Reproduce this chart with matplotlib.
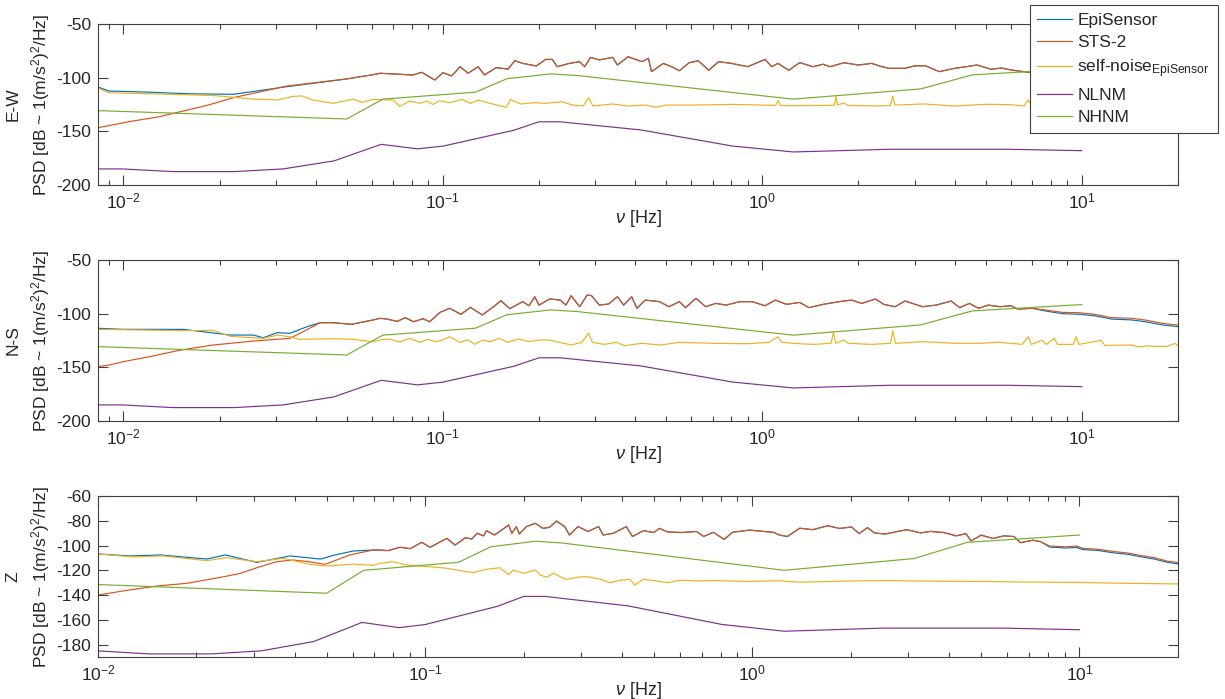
import numpy as np
import matplotlib
matplotlib.use("Agg")
import matplotlib.pyplot as plt

plt.rcParams['font.family'] = ['Liberation Sans', 'DejaVu Sans']
plt.rcParams['mathtext.fontset'] = 'custom'
plt.rcParams['mathtext.rm'] = 'Liberation Sans'
plt.rcParams['mathtext.it'] = 'Liberation Sans:italic'
plt.rcParams['mathtext.bf'] = 'Liberation Sans:bold'
plt.rcParams['axes.unicode_minus'] = False

# ---------------- colours (MATLAB default order) ----------------
C_EPI = (0.0, 0.447, 0.741)
C_STS = (0.850, 0.325, 0.098)
C_SELF = (0.929, 0.694, 0.125)
C_NLNM = (0.494, 0.184, 0.556)
C_NHNM = (0.466, 0.674, 0.188)

# ---------------- Peterson models ----------------
nlnm_f = [0.00833, 0.0099, 0.01429, 0.02222, 0.03165, 0.04566, 0.0641, 0.08333,
          0.1, 0.1667, 0.2, 0.2326, 0.4167, 0.8065, 1.25, 2.5, 5.882, 10.0]
nlnm_v = [-185.0, -185.0, -187.5, -187.5, -185.0, -177.5, -162.1, -166.3,
          -163.8, -149.0, -141.1, -141.1, -148.7, -163.7, -169.2, -166.7, -166.7, -168.0]
nhnm_f = [0.00833, 0.05, 0.0649, 0.1266, 0.1587, 0.2174, 0.2632, 1.25, 3.125, 4.545, 10.0]
nhnm_v = [-130.7, -138.5, -120.0, -113.5, -101.0, -96.5, -98.0, -120.0, -110.5, -97.4, -91.5]

# ---------------- E-W ----------------
ew_sts_f = [0.00833, 0.0107, 0.0128, 0.0159, 0.0183, 0.0221, 0.0325, 0.05, 0.0622, 0.0636,
            0.0806, 0.0859, 0.0944, 0.100, 0.1065, 0.1133, 0.120, 0.129, 0.135, 0.147,
            0.160, 0.168, 0.178, 0.196, 0.210, 0.220, 0.228, 0.249, 0.268, 0.278,
            0.290, 0.309, 0.340, 0.352, 0.380, 0.420, 0.440, 0.450, 0.490, 0.520,
            0.550, 0.590, 0.630, 0.680, 0.730, 0.800, 0.900, 1.02, 1.07, 1.12,
            1.21, 1.31, 1.44, 1.55, 1.63, 1.80, 2.0, 2.2, 2.35, 2.49,
            2.8, 3.0, 3.24, 3.58, 4.0, 4.3, 4.7, 5.2, 5.6, 6.0,
            6.8, 8.0, 10.0, 12.5, 15.0, 17.5, 20.0]
ew_sts_v = [-146.6, -140.4, -136.7, -130.1, -125.8, -118.6, -107.8, -101.2, -96.6, -95.9,
            -97.5, -95.0, -102.2, -95.3, -98.4, -89.8, -95.9, -89.8, -97.5, -90.7,
            -92.0, -84.2, -86.7, -89.1, -83.0, -83.0, -89.8, -86.7, -85.1, -89.8,
            -81.1, -83.5, -81.1, -88.2, -80.5, -85.1, -82.0, -94.4, -86.7, -89.8,
            -93.5, -86.1, -84.2, -93.1, -85.1, -86.7, -89.8, -83.0, -89.8, -86.7,
            -93.1, -86.0, -89.8, -87.5, -89.8, -86.1, -88.2, -86.7, -89.5, -91.3,
            -91.3, -89.0, -88.9, -94.4, -91.3, -90.0, -88.2, -92.2, -91.0, -92.8,
            -95.0, -97.0, -99.5, -103.0, -105.5, -108.0, -110.0]
ew_epi_low_f = [0.00833, 0.0090, 0.0120, 0.0160, 0.0221, 0.0325]
ew_epi_low_v = [-108.7, -112.4, -113.5, -115.0, -115.5, -108.4]
ew_self_f = [0.00833, 0.0090, 0.0191, 0.0255, 0.0303, 0.034, 0.0362, 0.0392, 0.0453, 0.0524,
             0.0558, 0.0604, 0.0636, 0.0698, 0.0733, 0.0787, 0.0847, 0.089, 0.093, 0.0979,
             0.105, 0.115, 0.122, 0.129, 0.140, 0.158, 0.163, 0.175, 0.193, 0.210,
             0.235, 0.255, 0.275, 0.286, 0.295, 0.34, 0.38, 0.43, 0.464, 0.50,
             0.62, 0.80, 1.00, 1.10, 1.12, 1.14, 1.31, 1.6, 1.68, 1.70,
             1.72, 1.80, 1.85, 2.3, 2.52, 2.56, 2.60, 3.2, 4.0, 5.0,
             6.0, 6.6, 6.8, 7.0, 8.2, 9.6, 10.2, 12.0, 16.0, 20.0]
ew_self_v = [-109.7, -114.0, -116.6, -119.9, -120.8, -117.4, -117.0, -120.8, -123.9, -120.0,
             -123.0, -120.3, -120.5, -120.8, -126.8, -121.8, -123.9, -121.8, -124.9, -121.5,
             -123.4, -120.2, -123.9, -120.8, -123.9, -127.6, -120.2, -124.5, -123.3, -123.9,
             -122.4, -125.5, -126.4, -118.6, -126.4, -124.5, -126.4, -125.5, -127.6, -125.5,
             -125.5, -124.9, -125.5, -125.8, -121.4, -126.0, -126.0, -125.8, -125.8, -117.7,
             -125.5, -123.5, -125.8, -126.4, -126.0, -117.0, -125.5, -124.5, -126.4, -124.8,
             -125.2, -126.4, -120.8, -126.4, -124.0, -122.0, -126.5, -127.0, -128.0, -128.5]

# ---------------- N-S ----------------
ns_sts_f = [0.00833, 0.0090, 0.010, 0.0121, 0.0151, 0.0191, 0.0255, 0.0332, 0.0357, 0.0413,
            0.0453, 0.0518, 0.0604, 0.0636, 0.0668, 0.072, 0.0762, 0.081, 0.0866, 0.091,
            0.0979, 0.105, 0.114, 0.122, 0.133, 0.145, 0.152, 0.162, 0.178, 0.186,
            0.194, 0.200, 0.216, 0.233, 0.243, 0.252, 0.268, 0.283, 0.292, 0.309,
            0.33, 0.352, 0.368, 0.39, 0.405, 0.43, 0.477, 0.51, 0.55, 0.575,
            0.62, 0.665, 0.715, 0.77, 0.85, 0.93, 1.02, 1.10, 1.19, 1.31,
            1.40, 1.55, 1.74, 1.90, 2.05, 2.26, 2.40, 2.60, 2.80, 3.17,
            3.5, 3.9, 4.15, 4.45, 4.75, 5.1, 5.55, 6.0, 6.3, 7.0,
            7.7, 8.7, 9.8, 11.0, 12.4, 14.3, 15.8, 17.9, 20.0]
ns_sts_v = [-149.4, -147.9, -144.7, -140.0, -133.9, -129.2, -125.5, -123.0, -118.3, -108.4,
            -108.4, -109.9, -105.9, -104.3, -105.0, -107.2, -103.7, -107.5, -104.7, -107.5,
            -98.8, -95.0, -100.6, -94.1, -101.2, -92.9, -87.9, -95.3, -88.8, -92.6,
            -84.2, -92.0, -86.3, -87.3, -92.0, -83.2, -93.5, -82.6, -83.2, -92.0,
            -91.0, -84.2, -92.0, -84.2, -95.0, -87.3, -88.8, -93.5, -88.8, -94.4,
            -85.7, -93.5, -90.4, -92.0, -88.8, -88.8, -92.6, -87.3, -91.3, -89.5,
            -94.4, -91.3, -88.8, -87.3, -90.4, -86.3, -91.3, -93.5, -88.2, -93.5,
            -92.0, -88.2, -94.4, -90.4, -95.0, -92.0, -93.5, -92.6, -95.7, -95.0,
            -96.6, -98.8, -99.1, -100.6, -103.7, -104.3, -105.9, -109.0, -110.6]
ns_epi_low_f = [0.00833, 0.010, 0.0154, 0.0216, 0.0255, 0.0274, 0.0303, 0.0332, 0.0376, 0.0413]
ns_epi_low_v = [-113.6, -114.6, -114.6, -119.9, -119.9, -122.4, -117.7, -118.3, -112.1, -108.4]
ns_epi_tail_f = [7.7, 8.7, 9.8, 11.0, 12.4, 14.3, 15.8, 17.9, 20.0]
ns_epi_tail_v = [-97.5, -100.0, -100.5, -102.0, -105.0, -105.8, -107.5, -110.5, -112.0]
ns_self_f = [0.00833, 0.0154, 0.0191, 0.0216, 0.0274, 0.0303, 0.0332, 0.0357, 0.0453, 0.0524,
             0.0604, 0.0636, 0.068, 0.0733, 0.0787, 0.085, 0.0895, 0.0955, 0.100, 0.105,
             0.113, 0.12, 0.126, 0.133, 0.140, 0.150, 0.160, 0.172, 0.186, 0.20,
             0.215, 0.232, 0.252, 0.272, 0.286, 0.294, 0.32, 0.35, 0.37, 0.42,
             0.48, 0.55, 0.70, 0.90, 1.05, 1.12, 1.15, 1.31, 1.45, 1.64,
             1.67, 1.70, 1.80, 1.86, 2.2, 2.52, 2.56, 2.61, 3.2, 4.0,
             4.8, 5.5, 6.5, 6.8, 6.95, 7.5, 7.75, 8.2, 8.4, 9.4,
             9.6, 9.8, 11.5, 11.8, 14.3, 15.0, 16.0, 17.0, 18.5, 19.6, 20.0]
ns_self_v = [-114.6, -115.8, -115.5, -121.1, -123.0, -119.9, -121.5, -123.9, -123.3, -123.9,
             -126.1, -124.5, -123.6, -126.4, -123.0, -126.7, -123.9, -126.1, -124.5, -121.4,
             -126.7, -124.5, -128.6, -124.5, -126.1, -123.0, -126.7, -123.6, -126.1, -124.5,
             -124.5, -126.7, -129.2, -126.7, -118.3, -126.7, -128.6, -126.7, -129.8, -127.6,
             -129.2, -126.7, -127.6, -128.0, -126.7, -121.4, -126.7, -128.0, -128.6, -127.6,
             -117.7, -127.6, -124.5, -127.6, -128.6, -127.6, -116.0, -127.6, -126.1, -127.6,
             -127.6, -126.6, -128.6, -121.4, -128.6, -124.8, -128.6, -123.0, -128.6, -128.6,
             -121.4, -128.6, -124.8, -129.5, -129.2, -131.0, -130.0, -130.5, -130.5, -127.6, -129.8]

# ---------------- Z ----------------
z_sts_f = [0.010, 0.0119, 0.0151, 0.0187, 0.0242, 0.0272, 0.0306, 0.0352, 0.0395, 0.0440,
           0.0494, 0.0536, 0.0588, 0.0694, 0.0727, 0.0770, 0.0837, 0.0900, 0.0976, 0.1035,
           0.110, 0.1165, 0.1235, 0.1326, 0.139, 0.144, 0.151, 0.154, 0.163, 0.169,
           0.180, 0.184, 0.190, 0.194, 0.204, 0.217, 0.229, 0.240, 0.252, 0.267,
           0.276, 0.293, 0.315, 0.339, 0.350, 0.376, 0.412, 0.430, 0.465, 0.50,
           0.52, 0.55, 0.61, 0.675, 0.71, 0.76, 0.82, 0.87, 0.98, 1.08,
           1.16, 1.21, 1.28, 1.395, 1.53, 1.70, 1.85, 2.01, 2.12, 2.25,
           2.36, 2.55, 2.83, 2.97, 3.27, 3.5, 3.85, 4.2, 4.5, 4.66,
           5.0, 5.45, 5.86, 6.3, 6.6, 7.2, 7.6, 8.1, 9.1, 9.8,
           10.2, 11.4, 12.8, 14.0, 15.5, 17.0, 18.5, 20.0]
z_sts_v = [-140.0, -136.7, -132.7, -130.5, -125.2, -122.5, -117.9, -113.0, -111.7, -113.0,
           -115.2, -111.7, -107.6, -103.6, -103.6, -104.1, -101.4, -102.5, -97.4, -101.4,
           -97.7, -94.2, -99.6, -93.7, -94.7, -90.1, -92.2, -88.0, -91.5, -88.6,
           -83.4, -90.1, -84.7, -90.6, -84.7, -82.0, -86.1, -85.3, -80.2, -84.7,
           -91.5, -84.7, -88.6, -84.7, -91.5, -90.1, -84.7, -92.7, -88.0, -89.5,
           -86.1, -89.0, -89.5, -88.6, -92.7, -89.3, -95.0, -89.3, -87.5, -88.6,
           -89.3, -91.5, -92.7, -86.0, -87.2, -84.0, -86.2, -85.0, -90.4, -85.5,
           -89.8, -90.7, -88.2, -87.2, -89.8, -88.6, -89.5, -92.2, -90.4, -96.3,
           -91.6, -94.3, -92.2, -92.7, -97.7, -95.7, -96.8, -100.4, -101.0, -100.4,
           -102.2, -103.0, -104.9, -106.0, -108.2, -109.9, -112.5, -113.8]
z_epi_low_f = [0.010, 0.0125, 0.0155, 0.0215, 0.0245, 0.0306, 0.0386, 0.0455, 0.0480, 0.0524, 0.0603]
z_epi_low_v = [-106.8, -108.4, -107.6, -110.9, -107.6, -113.6, -108.4, -110.3, -110.9, -107.9, -104.4]
z_epi_tail_f = [8.1, 9.1, 9.8, 10.2, 11.4, 12.8, 14.0, 15.5, 17.0, 18.5, 20.0]
z_epi_tail_v = [-101.2, -102.0, -101.5, -103.2, -104.0, -106.0, -107.0, -109.2, -111.0, -113.5, -114.8]
z_self_f = [0.010, 0.0128, 0.0158, 0.0215, 0.0247, 0.0306, 0.0368, 0.0444, 0.0500, 0.0603,
            0.0694, 0.0727, 0.0798, 0.0877, 0.0963, 0.1035, 0.1165, 0.1247, 0.140, 0.154,
            0.169, 0.180, 0.186, 0.200, 0.217, 0.224, 0.235, 0.246, 0.270, 0.297,
            0.315, 0.344, 0.367, 0.394, 0.422, 0.437, 0.465, 0.50, 0.55, 0.605,
            0.675, 0.76, 0.96, 1.21, 1.395, 2.0, 2.6, 3.5, 5.0, 7.0,
            10.0, 14.0, 20.0]
z_self_v = [-106.8, -109.2, -108.4, -112.2, -109.8, -113.0, -110.3, -115.2, -116.6, -115.0,
            -116.0, -114.4, -113.0, -115.7, -116.6, -117.1, -118.4, -119.7, -121.9, -119.2,
            -117.9, -123.6, -119.7, -122.4, -119.7, -123.6, -125.7, -122.4, -127.3, -125.3,
            -125.3, -127.3, -130.0, -128.0, -127.3, -131.9, -127.3, -128.3, -130.0, -128.0,
            -128.6, -128.3, -129.0, -128.5, -129.6, -128.6, -128.3, -128.8, -129.0, -129.5,
            -129.8, -130.5, -131.0]

panel_names = ['E-W', 'N-S', 'Z']
series_labels = ['EpiSensor', 'STS-2', r'self-noise$_{\mathrm{EpiSensor}}$', 'NLNM', 'NHNM']


def splice(low_f, low_v, mid_f, mid_v, tail_f=None, tail_v=None):
    mid_f = np.asarray(mid_f)
    mid_v = np.asarray(mid_v)
    mask = mid_f > low_f[-1]
    if tail_f is not None:
        mask &= mid_f < tail_f[0]
    f = np.concatenate([low_f, mid_f[mask]] + ([tail_f] if tail_f is not None else []))
    v = np.concatenate([low_v, mid_v[mask]] + ([tail_v] if tail_v is not None else []))
    return f, v


panels = [
    dict(sts=(ew_sts_f, ew_sts_v), epi=splice(ew_epi_low_f, ew_epi_low_v, ew_sts_f, ew_sts_v),
         self=(ew_self_f, ew_self_v), xlim=(0.00833, 20), ylim=(-200, -50),
         yticks=[-200, -150, -100, -50]),
    dict(sts=(ns_sts_f, ns_sts_v),
         epi=splice(ns_epi_low_f, ns_epi_low_v, ns_sts_f, ns_sts_v, ns_epi_tail_f, ns_epi_tail_v),
         self=(ns_self_f, ns_self_v), xlim=(0.00833, 20), ylim=(-200, -50),
         yticks=[-200, -150, -100, -50]),
    dict(sts=(z_sts_f, z_sts_v),
         epi=splice(z_epi_low_f, z_epi_low_v, z_sts_f, z_sts_v, z_epi_tail_f, z_epi_tail_v),
         self=(z_self_f, z_self_v), xlim=(0.01, 20), ylim=(-190, -60),
         yticks=[-180, -160, -140, -120, -100, -80, -60]),
]

fig = plt.figure(figsize=(12.25, 6.99), dpi=100)
rects = [[0.0800, 0.7353, 0.8816, 0.2304],
         [0.0800, 0.3977, 0.8816, 0.2303],
         [0.0800, 0.0601, 0.8816, 0.2303]]
lw = 0.85
spine_c = '0.25'
handles = None
for i, (p, r) in enumerate(zip(panels, rects)):
    ax = fig.add_axes(r)
    h1, = ax.plot(*p['epi'], color=C_EPI, lw=lw)
    h2, = ax.plot(*p['sts'], color=C_STS, lw=lw)
    h3, = ax.plot(*p['self'], color=C_SELF, lw=lw)
    h4, = ax.plot(nlnm_f, nlnm_v, color=C_NLNM, lw=lw)
    h5, = ax.plot(nhnm_f, nhnm_v, color=C_NHNM, lw=lw)
    if handles is None:
        handles = [h1, h2, h3, h4, h5]
    ax.set_xscale('log')
    ax.set_xlim(*p['xlim'])
    ax.set_ylim(*p['ylim'])
    ax.set_yticks(p['yticks'])
    ax.tick_params(which='both', direction='in', top=True, right=True,
                   color=spine_c, labelcolor='0.15', labelsize=12.5)
    ax.tick_params(which='major', length=7, width=0.8, pad=5)
    ax.tick_params(which='minor', length=3.5, width=0.8)
    for s in ax.spines.values():
        s.set_color(spine_c)
        s.set_linewidth(0.8)
    ax.set_xlabel(r'$\nu$ [Hz]', fontsize=13, color='0.15', labelpad=-3)
    ax.set_ylabel(panel_names[i] + '\nPSD [dB ~ 1(m/s$^2$)$^2$/Hz]', fontsize=12.5,
                  color='0.15', labelpad=3, linespacing=1.5)

leg = fig.legend(handles, series_labels, loc='upper right',
                 bbox_to_anchor=(0.994, 0.993), bbox_transform=fig.transFigure,
                 fancybox=False, framealpha=1, edgecolor=spine_c, fontsize=12.5,
                 handlelength=2.0, handletextpad=0.3, borderpad=0.45,
                 labelspacing=0.42, borderaxespad=0)
leg.get_frame().set_linewidth(0.8)
for t in leg.get_texts():
    t.set_color('0.15')

fig.savefig('out.png', dpi=100)
